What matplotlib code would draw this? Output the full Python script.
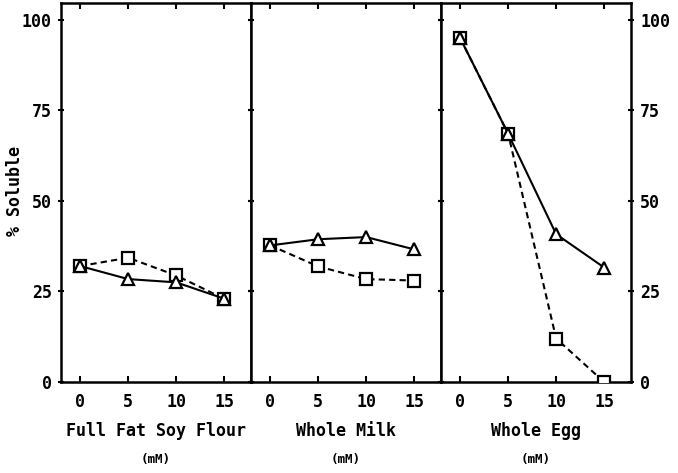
import matplotlib
matplotlib.use("Agg")
import matplotlib.pyplot as plt

# Concentration levels (mM) and panel names
conc = [0, 5, 10, 15]
panels = ["Full Fat Soy Flour", "Whole Milk", "Whole Egg"]

# % soluble: triangle series (solid) and square series (dashed)
tri_soy = [32.0, 28.4, 27.5, 23.0]
sq_soy = [32.0, 34.3, 29.4, 23.0]
tri_milk = [37.7, 39.4, 40.0, 36.6]
sq_milk = [37.7, 31.9, 28.4, 28.0]
tri_egg = [94.9, 68.5, 40.8, 31.6]
sq_egg = [94.9, 68.5, 12.0, 0.0]

triangles = [tri_soy, tri_milk, tri_egg]
squares = [sq_soy, sq_milk, sq_egg]

yticks = [0, 25, 50, 75, 100]

font = dict(family="DejaVu Sans Mono", weight="bold")

fig = plt.figure(figsize=(6.78, 4.73), dpi=100)
W, H = 678.0, 473.0
left_px = [61, 251, 441]
panel_w = 190
top_px, bot_px = 3, 382

axes = []
for i in range(3):
    ax = fig.add_axes([left_px[i] / W, 1 - bot_px / H, panel_w / W, (bot_px - top_px) / H])
    axes.append(ax)
    ax.plot(conc, squares[i], color="black", lw=1.5, ls=(0, (3.0, 2.0)),
            marker="s", ms=8, mfc="white", mec="black", mew=1.6, zorder=3)
    ax.plot(conc, triangles[i], color="black", lw=1.5, ls="-",
            marker="^", ms=8, mfc="white", mec="black", mew=1.6, zorder=4)
    ax.set_xlim(-2, 17.8)
    ax.set_ylim(0, 104.6)
    ax.set_xticks(conc)
    ax.set_yticks(yticks)
    for s in ax.spines.values():
        s.set_linewidth(1.8)
    ax.tick_params(axis="x", direction="in", length=4, width=1.5, top=True,
                   pad=8, labelsize=12)
    ax.tick_params(axis="y", direction="inout", length=5, width=1.5,
                   left=True, right=True, labelsize=12,
                   labelleft=(i == 0), labelright=(i == 2), pad=4)
    for lab in ax.get_xticklabels() + ax.get_yticklabels():
        lab.set_fontfamily(font["family"])
        lab.set_fontweight(font["weight"])
    ax.set_xlabel(panels[i], fontsize=12, labelpad=8, **font)
    ax.text(0.5, -0.205, "(mM)", transform=ax.transAxes, ha="center",
            va="center", fontsize=9, **font)

axes[0].set_ylabel("% Soluble", fontsize=12, **font)
axes[0].yaxis.label.set_verticalalignment("center")
axes[0].yaxis.set_label_coords(-0.24, 0.505)

fig.savefig("out.png", dpi=100)
